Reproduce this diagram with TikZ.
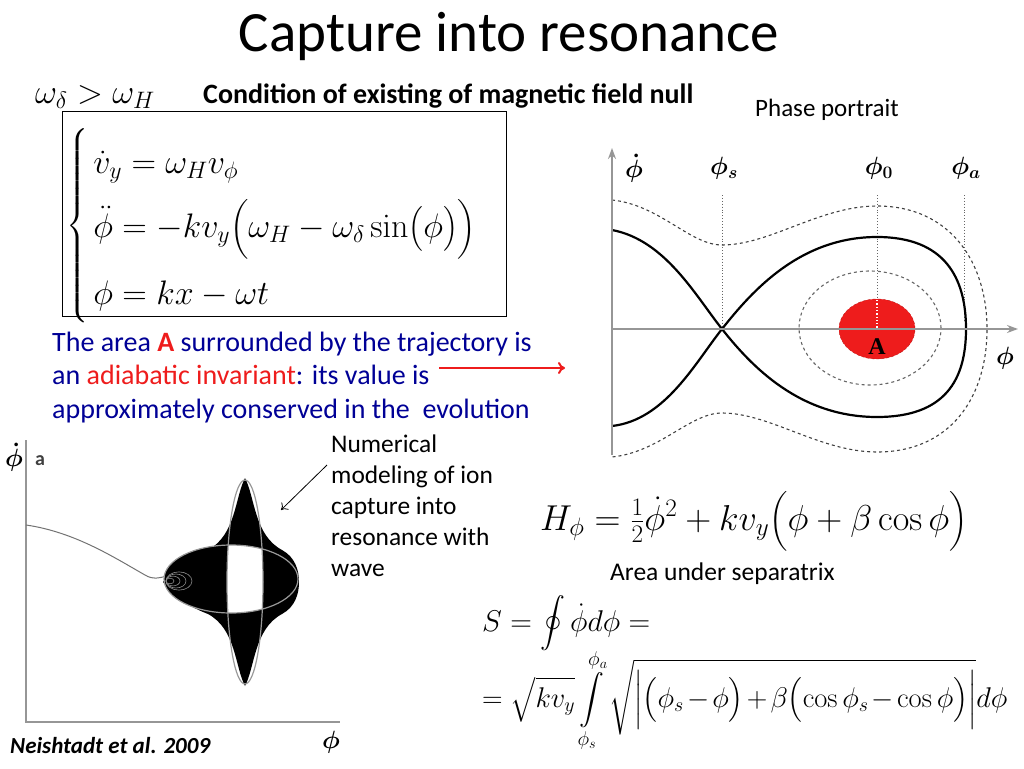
\RequirePackage{fix-cm}
\documentclass[tikz,border=0pt]{standalone}
\usepackage{amsmath}
\usepackage[no-math]{fontspec}
\setmainfont{Carlito}
\newfontfamily\serifA{Liberation Serif}
\usetikzlibrary{positioning,arrows.meta,shapes.geometric}
\definecolor{slideblue}{RGB}{0,0,150}
\definecolor{slidered}{RGB}{238,28,28}
\definecolor{axisgray}{RGB}{150,150,150}
\begin{document}
\begin{tikzpicture}[x=1pt,y=-1pt,
    txt/.style={inner sep=0pt, anchor=base west, align=left},
    eqn/.style={inner sep=0pt, anchor=base west},
    axis/.style={axisgray, line width=1.6pt},
    sepx/.style={line width=2.2pt},
    orbit/.style={dashed, line width=1.1pt, black!75},
    guide/.style={dotted, line width=0.9pt, black!60},
    lbl/.style={inner sep=0pt, font=\fontsize{25}{25}\selectfont\boldmath}]
  \useasboundingbox (0,0) rectangle (1024,768);
  % title and headings
  \node[anchor=base, inner sep=0pt, font=\fontsize{57}{64}\selectfont] (title) at (509,52) {Capture into resonance};
  \node[eqn, font=\fontsize{34}{34}\selectfont] (cond) at (35,103) {$\omega_\delta > \omega_H$};
  \node[txt, font=\fontsize{28}{32}\selectfont\bfseries] (condtxt) at (203,103) {Condition of existing of magnetic field null};
  \node[txt, font=\fontsize{25}{30}\selectfont] (portrait) at (755,116) {Phase portrait};
  % equations of motion
  \node[draw, line width=0.8pt, inner sep=0pt, minimum width=444pt, minimum height=205pt, anchor=north west] (sysbox) at (62,111) {};
  \node[inner sep=0pt, anchor=west, font=\fontsize{34}{64}\selectfont] (system) at (66,226) {$\left\{\begin{array}{l}
      \dot v_y = \omega_H v_\phi\\
      \ddot\phi = -kv_y\Bigl(\omega_H - \omega_\delta\sin\bigl(\phi\bigr)\Bigr)\\
      \phi = kx - \omega t
    \end{array}\right.$};
  % invariant text
  \node[txt, text=slideblue, font=\fontsize{28}{33.5}\selectfont] (invariant) at (52,418) {The area \textcolor{slidered}{\bfseries A} surrounded by the trajectory is\\
    an \textcolor{slidered}{adiabatic invariant}: its value is\\
    approximately conserved in the \ evolution};
  \coordinate (redtail) at (439,368);
  \coordinate (redhead) at (565,368);
  \draw[slidered, line width=2pt, -{To[length=7pt,width=12pt]}] (redtail) -- (redhead);
  % phase portrait
  \draw[guide] (722,195) -- (722,329);
  \draw[guide] (877,195) -- (877,300);
  \draw[guide] (964,195) -- (964,322);
  \draw[orbit, black!60] (870,328) ellipse [x radius=71pt, y radius=57pt];
  \node[draw=slidered!80!black, densely dashed, fill=slidered, ellipse, minimum width=76pt, minimum height=60pt, inner sep=0pt] (area) at (877,329) {};
  \draw[white, dotted, line width=1.3pt] (877,300) -- (877,329);
  \draw[orbit] (612,200) .. controls (660,205) and (690,245) .. (722,245)
    .. controls (770,245) and (820,206) .. (877,206)
    .. controls (950,206) and (987,262) .. (987,329)
    .. controls (987,398) and (950,452) .. (877,452)
    .. controls (820,452) and (770,413) .. (722,413)
    .. controls (690,413) and (660,452) .. (612,457);
  \draw[sepx] (612,230) .. controls (665,240) and (695,295) .. (722,329)
    .. controls (752,367) and (800,417) .. (877,417)
    .. controls (945,417) and (966,380) .. (966,329)
    .. controls (966,278) and (945,237) .. (877,237)
    .. controls (800,237) and (752,291) .. (722,329)
    .. controls (695,363) and (665,420) .. (612,426);
  \draw[axis, -{Stealth[length=11pt,width=8pt]}] (612,455) -- (612,148);
  \draw[axis, -{Stealth[length=11pt,width=8pt]}] (612,329) -- (1018,329);
  \node[inner sep=0pt, font=\fontsize{24}{24}\serifA\bfseries] (areaA) at (877,347) {A};
  \node[lbl] (phidot) at (634,168) {$\dot\phi$};
  \node[lbl] (phis) at (724,168) {$\phi_s$};
  \node[lbl] (phi0) at (879,168) {$\phi_0$};
  \node[lbl] (phia) at (966,168) {$\phi_a$};
  \node[lbl] (phiax) at (1005,358) {$\phi$};
  % Hamiltonian and separatrix area
  \node[eqn, font=\fontsize{36}{36}\selectfont] (hamilton) at (540,530) {$H_\phi = \tfrac12\dot\phi^2 + kv_y\Bigl(\phi+\beta\cos\phi\Bigr)$};
  \node[txt, font=\fontsize{25.5}{30}\selectfont] (areatxt) at (610,580) {Area under separatrix};
  \node[eqn, font=\fontsize{30}{30}\selectfont] (sline) at (482,631) {$S = \displaystyle\oint\dot\phi d\phi =$};
  \node[eqn, font=\fontsize{28.5}{28.5}\selectfont] (sint) at (482,707) {$\medmuskip=2mu = \sqrt{kv_y}\displaystyle\int\limits_{\phi_s}^{\phi_a}\sqrt{\Bigl|\bigl(\phi_s-\phi\bigr)+\beta\bigl(\cos\phi_s-\cos\phi\bigr)\Bigr|}d\phi$};
  % numerical modeling
  \draw[axis, line width=1.4pt] (26,440) -- (26,722) -- (340,722);
  \draw[black!55, line width=1pt] (26,525) .. controls (75,532) and (115,558) .. (145,575)
    .. controls (153,580) and (160,578) .. (170,575);
  \fill (245,478) .. controls (255,497) and (254,535) .. (282,550)
    .. controls (295,557) and (299,570) .. (299,582)
    .. controls (299,594) and (295,607) .. (282,614)
    .. controls (254,629) and (255,667) .. (245,686)
    .. controls (235,667) and (236,629) .. (208,614)
    .. controls (190,607) and (175,598) .. (163,582)
    .. controls (175,566) and (190,557) .. (208,550)
    .. controls (236,535) and (235,497) .. (245,478) -- cycle;
  \fill (231,579) ellipse [x radius=67pt, y radius=34pt];
  \begin{scope}
    \clip (245,582) ellipse [x radius=18pt, y radius=101pt];
    \fill[white] (231,579) ellipse [x radius=67pt, y radius=34pt];
  \end{scope}
  \draw[black!40, line width=1.2pt] (245,582) ellipse [x radius=18pt, y radius=102pt];
  \draw[black!40, line width=1.2pt] (231,579) ellipse [x radius=67pt, y radius=34pt];
  \foreach \r in {4,7,10,13}
    \draw[black!45, line width=0.6pt] (166+\r,581) ellipse [x radius=\r pt, y radius=0.7*\r pt];
  \node[lbl] (phidotb) at (14,457) {$\dot\phi$};
  \node[inner sep=0pt, text=black!75, font=\fontsize{20}{20}\selectfont\bfseries] (panela) at (40,461) {a};
  \node[lbl] (phib) at (331,742) {$\phi$};
  \node[txt, font=\fontsize{25.4}{31}\selectfont] (numtxt) at (331,576) {Numerical\\ modeling of ion\\ capture into\\ resonance with\\ wave};
  \coordinate (numtail) at (327,465);
  \coordinate (numhead) at (281,510);
  \draw[line width=0.8pt, -{To[length=6pt,width=10pt]}] (numtail) -- (numhead);
  \node[txt, font=\fontsize{23}{27}\selectfont\bfseries\itshape] (cite) at (10,753) {Neishtadt et al. 2009};
\end{tikzpicture}
\end{document}
